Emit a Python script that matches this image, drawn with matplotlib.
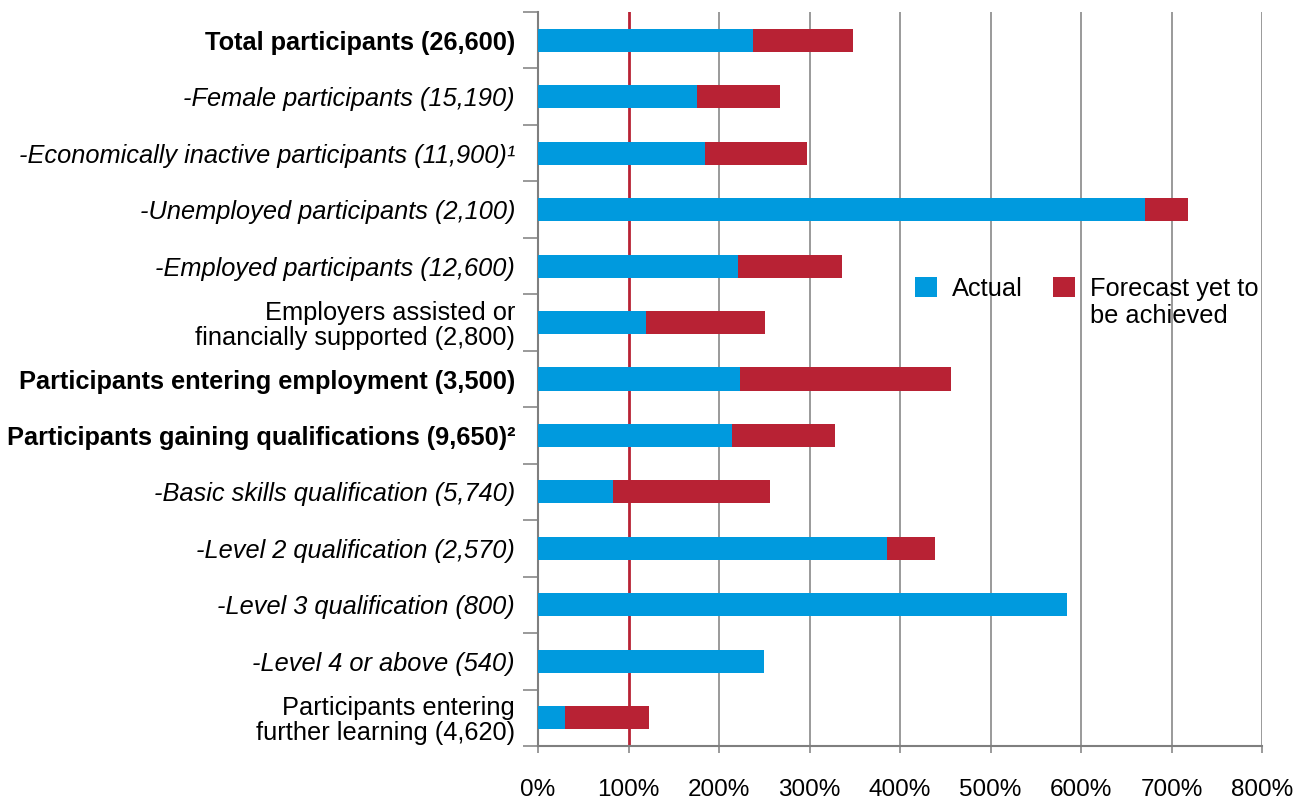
import numpy as np
import matplotlib.pyplot as plt

# Data (percent of target achieved)
categories = [
    "Total participants (26,600)",
    "-Female participants (15,190)",
    "-Economically inactive participants (11,900)\u00b9",
    "-Unemployed participants (2,100)",
    "-Employed participants (12,600)",
    "Employers assisted or\nfinancially supported (2,800)",
    "Participants entering employment (3,500)",
    "Participants gaining qualifications (9,650)\u00b2",
    "-Basic skills qualification (5,740)",
    "-Level 2 qualification (2,570)",
    "-Level 3 qualification (800)",
    "-Level 4 or above (540)",
    "Participants entering\nfurther learning (4,620)",
]
label_styles = ["bold", "italic", "italic", "italic", "italic", "normal", "bold",
                "bold", "italic", "italic", "italic", "italic", "normal"]
actual = [238, 176, 184, 671, 221, 119, 223, 214, 83, 386, 585, 250, 30]
forecast_total = [348, 267, 297, 718, 336, 251, 456, 328, 256, 439, 585, 250, 123]
forecast_extra = [max(f - a, 0) for a, f in zip(actual, forecast_total)]
xticks = [0, 100, 200, 300, 400, 500, 600, 700, 800]

blue = "#009ADE"
red = "#B82234"
grid_gray = "#7F7F7F"

plt.rcParams["font.family"] = ["Liberation Sans", "DejaVu Sans"]

fig = plt.figure(figsize=(13.06, 8.02), dpi=100)
ax = fig.add_axes([538 / 1306, 56 / 802, 724 / 1306, 734 / 802])

y = np.arange(len(categories))
ax.barh(y, actual, height=0.41, color=blue, label="Actual", zorder=3)
ax.barh(y, forecast_extra, left=actual, height=0.41, color=red,
        label="Forecast yet to", zorder=3)

ax.set_xlim(0, 800)
ax.set_ylim(len(categories) - 0.5, -0.5)

# vertical gridlines
for t in xticks[1:]:
    ax.axvline(t, color=red if t == 100 else grid_gray,
               lw=2 if t == 100 else 1.1, zorder=2)

# y axis: ticks at category boundaries, labels centred on categories
ax.set_yticks(np.arange(-0.5, len(categories), 1.0))
ax.set_yticklabels([])
ax.set_yticks(y, minor=True)
ax.set_yticklabels(categories, minor=True)
for lbl, st in zip(ax.get_yticklabels(minor=True), label_styles):
    if st == "bold":
        lbl.set_fontweight("bold")
    elif st == "italic":
        lbl.set_fontstyle("italic")
    lbl.set_fontsize(18.3)
    lbl.set_multialignment("right")
    lbl.set_linespacing(1.05)
ax.tick_params(axis="y", which="minor", length=0, pad=16.5)
ax.tick_params(axis="y", which="major", length=11, width=1.1, color=grid_gray)

ax.set_xticks(xticks)
ax.set_xticklabels([f"{t}%" for t in xticks], fontsize=17.5)
ax.tick_params(axis="x", length=5, width=1.1, color=grid_gray, pad=19)

for side in ["top", "right"]:
    ax.spines[side].set_visible(False)
for side in ["left", "bottom"]:
    ax.spines[side].set_color(grid_gray)
    ax.spines[side].set_linewidth(1.5)

leg = ax.legend(loc="upper left", bbox_to_anchor=((915 - 538) / 724, (748 - 279) / 734),
                ncol=2, frameon=False, fontsize=18.3, handlelength=0.85,
                handleheight=0.85, columnspacing=1.2, handletextpad=0.6,
                borderpad=0, borderaxespad=0)
# second line of the forecast legend entry
ax.annotate("be achieved", xy=(0, 0), xycoords=leg.get_texts()[1],
            xytext=(0, -2.5), textcoords="offset points", ha="left", va="top",
            fontsize=18.3, zorder=10)

plt.savefig("out.png", dpi=100)
